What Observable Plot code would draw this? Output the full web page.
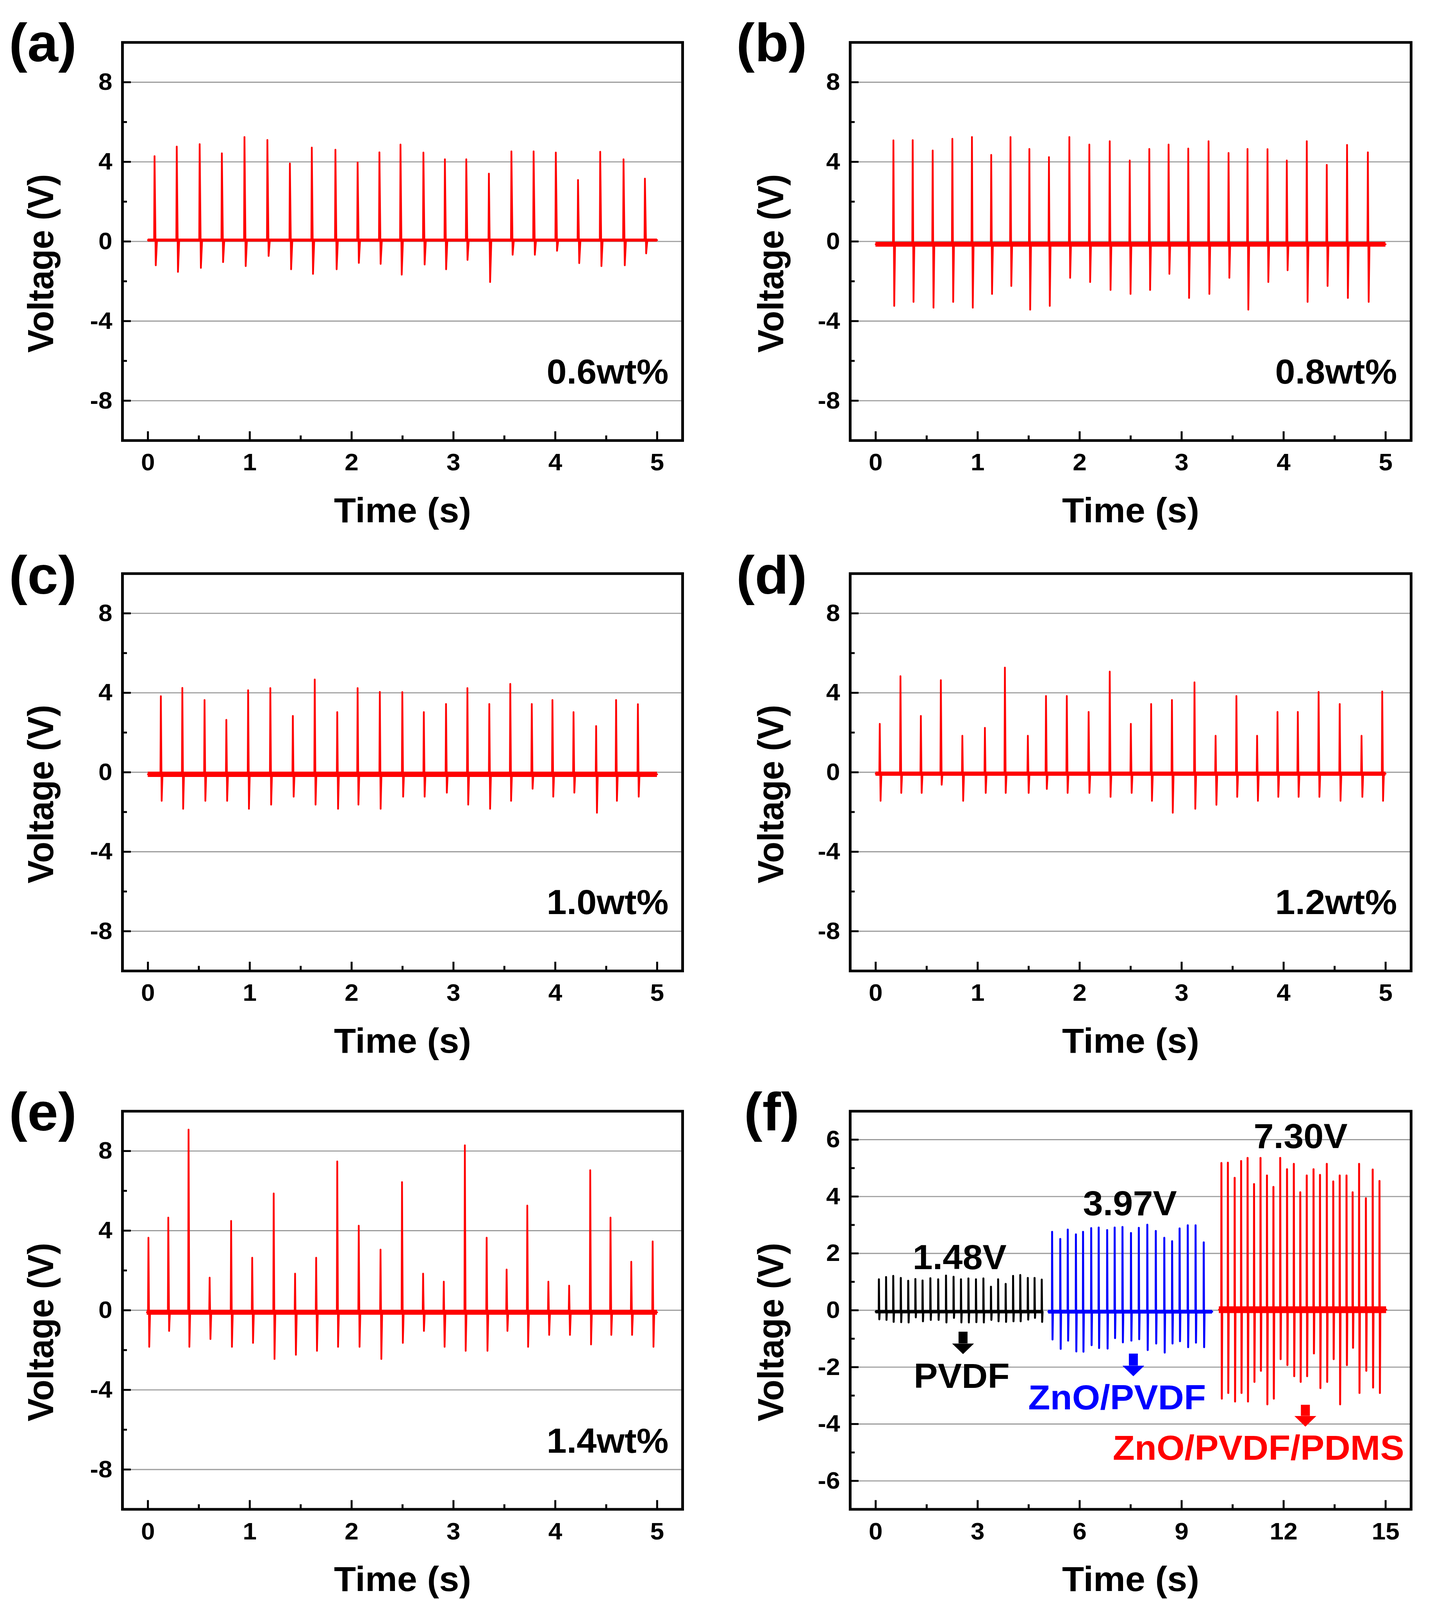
<!DOCTYPE html>
<html><head><meta charset="utf-8">
<script src="https://cdn.jsdelivr.net/npm/d3@7"></script>
<script src="https://cdn.jsdelivr.net/npm/@observablehq/plot@0.6"></script>
<style>
html,body{margin:0;padding:0;background:#fff;overflow:hidden;}
#fig{position:relative;width:3666px;height:4244px;background:#fff;overflow:hidden;transform-origin:0 0;}
#fig > div{position:absolute;}
#fig svg{display:block;}
</style></head><body><div id="fig"></div>
<script>
// ---------- tick values ----------
const xTicksA = [0, 1, 2, 3, 4, 5];
const xMinorA = [0.5, 1.5, 2.5, 3.5, 4.5];
const yTicksA = [-8, -4, 0, 4, 8];
const yMinorA = [-6, -2, 2, 6];
const xTicksF = [0, 3, 6, 9, 12, 15];
const xMinorF = [1.5, 4.5, 7.5, 10.5, 13.5];
const yTicksF = [-6, -4, -2, 0, 2, 4, 6];
const yMinorF = [-5, -3, -1, 1, 3, 5];

// ---------- (a) 0.6wt% ----------
const aTime = [0.065,0.283,0.508,0.726,0.948,1.173,1.394,1.609,1.841,2.059,2.273,2.480,2.705,2.916,3.126,3.348,3.569,3.787,4.005,4.223,4.441,4.670,4.880];
const aPeak = [4.29,4.77,4.89,4.43,5.25,5.10,3.92,4.72,4.61,3.97,4.48,4.87,4.47,4.13,4.13,3.41,4.53,4.53,4.47,3.09,4.51,4.13,3.16];
const aDip  = [-1.20,-1.53,-1.33,-1.04,-1.24,-0.73,-1.40,-1.63,-1.40,-1.08,-1.13,-1.67,-1.16,-1.40,-0.93,-2.04,-0.67,-0.67,-0.47,-1.09,-1.24,-1.20,-0.60];
const aBase = 0.07;

// ---------- (b) 0.8wt% ----------
const bTime = [0.174,0.363,0.559,0.752,0.944,1.133,1.322,1.507,1.699,1.899,2.095,2.295,2.491,2.683,2.872,3.065,3.264,3.460,3.646,3.842,4.031,4.227,4.423,4.622,4.826];
const bPeak = [5.08,5.09,4.57,5.16,5.25,4.35,5.25,4.65,4.24,5.25,4.87,5.04,4.07,4.65,4.87,4.67,5.04,4.45,4.65,4.64,4.07,5.04,3.85,4.85,4.48];
const bDip  = [-3.24,-3.04,-3.33,-3.04,-3.33,-2.64,-2.24,-3.43,-3.24,-1.83,-2.04,-2.44,-2.64,-2.44,-1.63,-2.84,-2.64,-1.83,-3.43,-2.04,-1.45,-3.04,-2.24,-2.84,-3.04];
const bBase = -0.14;

// ---------- (c) 1.0wt% ----------
const cTime = [0.127,0.338,0.556,0.770,0.984,1.202,1.423,1.638,1.859,2.059,2.277,2.498,2.709,2.927,3.137,3.352,3.558,3.769,3.972,4.179,4.401,4.597,4.811];
const cPeak = [3.83,4.25,3.64,2.64,4.13,4.24,2.84,4.67,3.03,4.24,4.05,4.04,3.03,3.44,4.24,3.44,4.45,3.44,3.64,3.03,2.33,3.64,3.43];
const cDip  = [-1.44,-1.84,-1.44,-1.44,-1.84,-1.63,-1.23,-1.63,-1.84,-1.63,-1.84,-1.23,-1.23,-1.03,-1.63,-1.84,-1.44,-0.83,-1.23,-1.03,-2.04,-1.44,-1.23];
const cBase = -0.1;

// ---------- (d) 1.2wt% ----------
const dTime = [0.040,0.243,0.443,0.639,0.850,1.071,1.267,1.492,1.670,1.874,2.088,2.295,2.502,2.701,2.905,3.126,3.333,3.537,3.740,3.940,4.139,4.343,4.550,4.764,4.967];
const dPeak = [2.44,4.84,2.84,4.64,1.84,2.24,5.27,1.84,3.84,3.84,3.04,5.07,2.44,3.44,3.64,4.53,1.84,3.84,1.84,3.04,3.04,4.05,3.44,1.84,4.07];
const dDip  = [-1.44,-1.04,-1.04,-0.63,-1.44,-1.04,-1.04,-1.04,-0.84,-1.04,-1.04,-1.24,-1.04,-1.44,-2.04,-1.84,-1.64,-1.24,-1.44,-1.24,-1.24,-1.24,-1.44,-1.24,-1.44];
const dBase = -0.07;

// ---------- (e) 1.4wt% ----------
const eTime = [0.005,0.200,0.399,0.606,0.817,1.024,1.235,1.445,1.652,1.859,2.070,2.284,2.495,2.702,2.905,3.112,3.326,3.522,3.725,3.932,4.136,4.343,4.542,4.746,4.956];
const ePeak = [3.65,4.66,9.08,1.64,4.49,2.64,5.87,1.84,2.64,7.48,4.25,3.05,6.44,1.84,1.44,8.29,3.65,2.05,5.26,1.44,1.24,7.04,4.66,2.44,3.46];
const eDip  = [-1.84,-1.04,-1.84,-1.45,-1.84,-1.64,-2.45,-2.24,-2.04,-1.84,-1.84,-2.45,-1.64,-1.04,-1.84,-2.04,-2.04,-1.04,-1.84,-1.24,-1.24,-1.72,-1.24,-1.24,-1.84];
const eBase = -0.1;

// ---------- (f) comparison ----------
const pvdfTime = [0.095,0.306,0.517,0.739,0.957,1.168,1.379,1.609,1.839,2.069,2.291,2.509,2.728,2.950,3.169,3.391,3.602,3.824,4.042,4.253,4.475,4.674,4.885];
const pvdfPeak = [1.09,1.17,1.21,1.14,1.04,1.10,1.05,1.13,1.09,1.22,1.18,1.09,1.12,1.09,1.12,0.83,1.09,0.93,1.21,1.24,1.14,1.14,1.08];
const pvdfDip  = [-0.32,-0.34,-0.41,-0.42,-0.43,-0.25,-0.39,-0.34,-0.34,-0.43,-0.27,-0.43,-0.43,-0.42,-0.43,-0.34,-0.39,-0.41,-0.39,-0.39,-0.33,-0.27,-0.41];
const znoTime = [5.19,5.43,5.65,5.89,6.10,6.34,6.56,6.81,7.03,7.26,7.51,7.74,7.99,8.24,8.49,8.72,8.94,9.18,9.41,9.65];
const znoPeak = [2.76,2.51,2.84,2.67,2.76,2.89,2.91,2.82,2.91,2.93,2.72,2.90,3.01,2.79,2.55,2.43,2.88,2.99,2.99,2.39];
const znoDip  = [-1.03,-1.36,-1.07,-1.45,-1.46,-1.23,-1.33,-1.35,-0.98,-1.13,-1.07,-1.02,-1.40,-1.17,-1.49,-1.17,-1.09,-1.30,-1.14,-1.30];
const pdmsTime = [10.17,10.36,10.56,10.75,10.94,11.13,11.32,11.51,11.70,11.90,12.10,12.30,12.49,12.68,12.88,13.07,13.27,13.46,13.65,13.85,14.03,14.22,14.42,14.62,14.82];
const pdmsPeak = [5.18,5.19,4.66,5.25,5.36,4.44,5.36,4.74,4.34,5.36,4.96,5.15,4.15,4.74,4.96,4.76,5.15,4.53,4.74,4.74,4.15,5.15,3.94,4.95,4.55];
const pdmsDip  = [-3.11,-2.91,-3.21,-2.91,-3.21,-2.52,-2.13,-3.31,-3.11,-1.72,-1.93,-2.32,-2.52,-2.32,-1.52,-2.74,-2.52,-1.72,-3.31,-1.93,-1.32,-2.91,-2.13,-2.72,-2.91];

const fLabelText  = ["1.48V", "3.97V", "7.30V", "PVDF", "ZnO/PVDF", "ZnO/PVDF/PDMS"];
const fLabelX     = [2.47, 7.48, 12.50, 2.53, 7.10, 11.26];
const fLabelY     = [1.84, 3.73, 6.09, -2.34, -3.09, -4.87];
const fLabelColor = ["#000000", "#000000", "#000000", "#000000", "#0000ff", "#ff0000"];
const fArrowX     = [2.57, 7.58, 12.64];
const fArrowTop   = [-0.76, -1.53, -3.33];
const fArrowBase  = [-1.17, -1.95, -3.72];
const fArrowColor = ["#000000", "#0000ff", "#ff0000"];

// ---------- helpers ----------
const FONT = "'Liberation Sans', Arial, Helvetica, sans-serif";

function trace(T, P, N, base, t0, t1, lag) {
  const rows = [{t: t0, v: base}];
  T.forEach((t, i) => {
    rows.push({t: t - 0.004, v: base}, {t: t, v: P[i]}, {t: t + lag, v: N[i]}, {t: t + 2 * lag, v: base});
  });
  rows.push({t: t1, v: base});
  return rows;
}

const colL = {left: 0, width: 1833, ml: 313, mr: 86, ylDx: -207, letterDx: -204};
const colR = {left: 1833, width: 1833, ml: 343, mr: 54, ylDx: -201, letterDx: -201};
const rows3 = [
  {top: 0, height: 1400, mt: 112, mb: 232, letterDy: 5},
  {top: 1400, height: 1400, mt: 121, mb: 225, letterDy: 8},
  {top: 2800, height: 1444, mt: 147, mb: 241, letterDy: 6}
];

function panel(cfg) {
  const {col, row} = cfg;
  const fw = col.width - col.ml - col.mr;
  const fh = row.height - row.mt - row.mb;
  const tickStyle = {stroke: "black", strokeWidth: 5};
  const marks = [
    Plot.ruleY(cfg.yT, {y: d => d, stroke: "#9c9c9c", strokeWidth: 3}),
  ];
  for (const s of cfg.series) {
    marks.push(Plot.ruleY([{y: s.base, x1: s.t0, x2: s.t1}], {y: "y", x1: "x1", x2: "x2", stroke: s.color, strokeWidth: s.band}));
    marks.push(Plot.line(s.rows, {x: "t", y: "v", stroke: s.color, strokeWidth: s.width}));
  }
  marks.push(
    Plot.tickX(cfg.xT, {x: d => d, insetTop: fh - 24, ...tickStyle}),
    Plot.tickX(cfg.xM, {x: d => d, insetTop: fh - 13, ...tickStyle}),
    Plot.tickY(cfg.yT, {y: d => d, insetRight: fw - 22, ...tickStyle}),
    Plot.tickY(cfg.yM, {y: d => d, insetRight: fw - 12, ...tickStyle}),
    Plot.axisX(cfg.xT, {anchor: "bottom", tickSize: 0, tickPadding: 34, tickFormat: d => `${d}`, fontSize: 64, fontWeight: "bold", fill: "black", label: null}),
    Plot.axisY(cfg.yT, {anchor: "left", tickSize: 0, tickPadding: 26, tickFormat: d => `${d}`, fontSize: 64, fontWeight: "bold", fill: "black", label: null}),
    Plot.frame({stroke: "black", strokeWidth: 7}),
    Plot.text([cfg.letter], {text: d => d, frameAnchor: "top-left", dx: col.letterDx, dy: row.letterDy, textAnchor: "middle", lineAnchor: "middle", fontSize: 142, fontWeight: "bold", fill: "black"}),
    Plot.text(["Voltage (V)"], {text: d => d, frameAnchor: "left", rotate: -90, dx: col.ylDx, dy: 58, textAnchor: "middle", lineAnchor: "middle", fontSize: 92, fontWeight: "bold", fill: "black"}),
    Plot.text(["Time (s)"], {text: d => d, frameAnchor: "bottom", dy: 187, textAnchor: "middle", lineAnchor: "middle", fontSize: 92, fontWeight: "bold", fill: "black"})
  );
  if (cfg.note) {
    marks.push(Plot.text([cfg.note], {text: d => d, frameAnchor: "bottom-right", dx: -36, dy: -180, textAnchor: "end", lineAnchor: "middle", fontSize: 92, fontWeight: "bold", fill: "black"}));
  }
  if (cfg.extra) marks.push(...cfg.extra);
  const svg = Plot.plot({
    width: col.width, height: row.height,
    marginLeft: col.ml, marginRight: col.mr, marginTop: row.mt, marginBottom: row.mb,
    x: {domain: cfg.xDomain, axis: null},
    y: {domain: cfg.yDomain, axis: null},
    color: {type: "identity"},
    style: {fontFamily: FONT, fontSize: "64px", fontWeight: "bold", color: "black", background: "transparent", overflow: "visible"},
    marks
  });
  const holder = document.createElement("div");
  holder.style.left = col.left + "px";
  holder.style.top = row.top + "px";
  holder.style.width = col.width + "px";
  holder.style.height = row.height + "px";
  holder.appendChild(svg);
  document.getElementById("fig").appendChild(holder);
}

const domA = {xDomain: [-0.25, 5.25], yDomain: [-10, 10], xT: xTicksA, xM: xMinorA, yT: yTicksA, yM: yMinorA};
const red = "#ff0000";

panel({...domA, col: colL, row: rows3[0], letter: "(a)", note: "0.6wt%",
  series: [{rows: trace(aTime, aPeak, aDip, aBase, 0, 5.0, 0.012), base: aBase, t0: 0, t1: 5.0, color: red, width: 4.5, band: 8}]});
panel({...domA, col: colR, row: rows3[0], letter: "(b)", note: "0.8wt%",
  series: [{rows: trace(bTime, bPeak, bDip, bBase, 0, 5.0, 0.008), base: bBase, t0: 0, t1: 5.0, color: red, width: 4.5, band: 13}]});
panel({...domA, col: colL, row: rows3[1], letter: "(c)", note: "1.0wt%",
  series: [{rows: trace(cTime, cPeak, cDip, cBase, 0, 5.0, 0.008), base: cBase, t0: 0, t1: 5.0, color: red, width: 4.5, band: 14}]});
panel({...domA, col: colR, row: rows3[1], letter: "(d)", note: "1.2wt%",
  series: [{rows: trace(dTime, dPeak, dDip, dBase, 0, 5.0, 0.008), base: dBase, t0: 0, t1: 5.0, color: red, width: 4.5, band: 11}]});
panel({...domA, col: colL, row: rows3[2], letter: "(e)", note: "1.4wt%",
  series: [{rows: trace(eTime, ePeak, eDip, eBase, -0.01, 5.0, 0.008), base: eBase, t0: -0.01, t1: 5.0, color: red, width: 4.5, band: 13}]});

const fLabels = fLabelText.map((text, i) => ({text, x: fLabelX[i], y: fLabelY[i], color: fLabelColor[i]}));
const fArrows = fArrowX.map((x, i) => ({x, top: fArrowTop[i], base: fArrowBase[i], color: fArrowColor[i]}));

panel({xDomain: [-0.75, 15.75], yDomain: [-7, 7], xT: xTicksF, xM: xMinorF, yT: yTicksF, yM: yMinorF,
  col: colR, row: rows3[2], letter: "(f)",
  series: [
    {rows: trace(pvdfTime, pvdfPeak, pvdfDip, -0.05, 0, 4.9, 0.012), base: -0.05, t0: 0, t1: 4.9, color: "#000000", width: 5, band: 9},
    {rows: trace(znoTime, znoPeak, znoDip, -0.05, 5.08, 9.9, 0.012), base: -0.05, t0: 5.08, t1: 9.9, color: "#0000ff", width: 5, band: 10},
    {rows: trace(pdmsTime, pdmsPeak, pdmsDip, 0.02, 10.1, 15.02, 0.012), base: 0.02, t0: 10.1, t1: 15.02, color: "#ff0000", width: 5, band: 18}
  ],
  extra: [
    Plot.ruleX(fArrows, {x: "x", y1: "top", y2: "base", stroke: "color", strokeWidth: 23}),
    Plot.vector(fArrows, {x: "x", y: "base", length: 28, r: 28, rotate: 180, shape: "spike", anchor: "start", fill: "color", stroke: "none"}),
    Plot.text(fLabels, {x: "x", y: "y", text: "text", fill: "color", textAnchor: "middle", lineAnchor: "middle", fontSize: 92, fontWeight: "bold"})
  ]
});

// keep the whole figure inside the visible area if the viewport is smaller than the figure
(function fit() {
  const fig = document.getElementById("fig");
  const sx = Math.min(1, window.innerWidth / 3666);
  const sy = Math.min(1, window.innerHeight / 4244);
  if (sx < 1 || sy < 1) fig.style.transform = `scale(${sx}, ${sy})`;
})();
</script></body></html>
